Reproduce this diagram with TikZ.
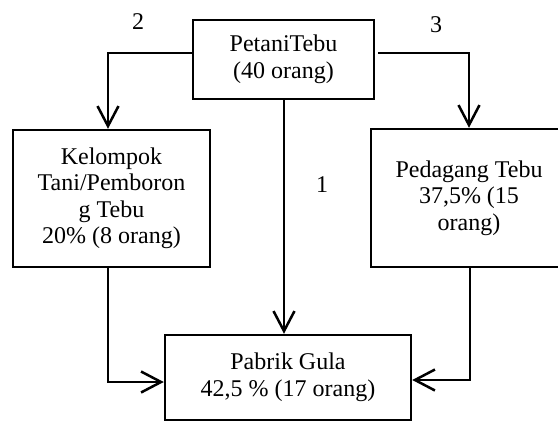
\documentclass[tikz,border=0pt]{standalone}
\usepackage{fontspec}
\setmainfont{Liberation Serif}
\usetikzlibrary{arrows.meta}

\tikzset{
    kotak/.style={draw, line width=2.5pt, align=center, inner sep=0pt, font=\fontsize{24}{26.5}\selectfont},
    panah/.style={-{Straight Barb[length=20pt, width=21pt, line width=2.5pt]}},
    angka/.style={font=\fontsize{24}{26.5}\selectfont}
}

\begin{document}
\begin{tikzpicture}[x=1pt, y=-1pt]

    \useasboundingbox (0,0) rectangle (558,421);

    \node [kotak, minimum width=181pt, minimum height=79pt] (petani) at (283.5,59.5) {PetaniTebu\\(40 orang)};
    \node [kotak, minimum width=197pt, minimum height=137pt] (kelompok) at (111.5,198.5) {Kelompok\\Tani/Pemboron\\g Tebu\\20\% (8 orang)};
    \node [kotak, minimum width=196pt, minimum height=138pt] (pedagang) at (469,198) {Pedagang Tebu\\37,5\% (15\\orang)};
    \node [kotak, minimum width=246pt, minimum height=85pt] (pabrik) at (288,377.5) {Pabrik Gula\\42,5 \% (17 orang)};

    \draw [panah, line width=2.5pt] ([yshift=6.5pt]petani.west) -| ([xshift=-3.5pt]kelompok.north);
    \draw [panah, line width=2.5pt] ([xshift=3pt, yshift=6.5pt]petani.east) -| (pedagang.north);
    \draw [panah, line width=2.5pt] ([xshift=0.5pt]petani.south) -- ([xshift=0.5pt]petani.south |- pabrik.north);

    \draw [panah, line width=1.3pt] ([xshift=-3.5pt]kelompok.south) |- ([yshift=-4.5pt]pabrik.west);
    \draw [panah, line width=1.3pt] ([xshift=1pt]pedagang.south) |- ([yshift=-2.5pt]pabrik.east);

    \node [angka] (n2) at (138,22) {2};
    \node [angka] (n3) at (436,25) {3};
    \node [angka] (n1) at (322,185) {1};

\end{tikzpicture}
\end{document}
